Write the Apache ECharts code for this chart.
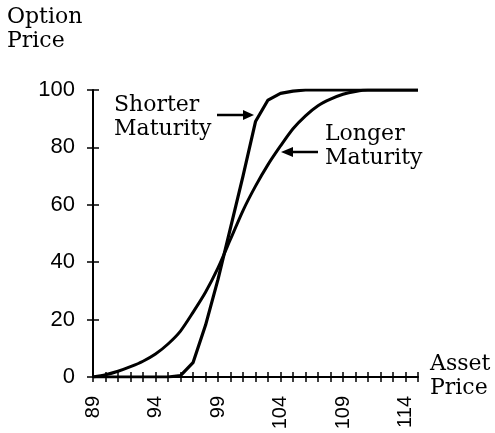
<!DOCTYPE html>
<html>
<head>
<meta charset="utf-8">
<script src="https://cdn.jsdelivr.net/npm/echarts@6/dist/echarts.min.js"></script>
<style>
html,body{margin:0;padding:0;background:#fff}
#chart{width:495px;height:433px}
</style>
</head>
<body>
<div id="chart"></div>
<script>
// asset prices on the x axis, one category per unit
const assetPrice = ['89','90','91','92','93','94','95','96','97','98','99','100','101','102',
    '103','104','105','106','107','108','109','110','111','112','113','114','115']
// option price
const shorterMaturity = [0,0,0,0,0,0,0,0.5,5,18,34,52,70,89,96.5,98.8,99.6,
    100,100,100,100,100,100,100,100,100,100]
const longerMaturity = [0,0.8,2,3.6,5.5,8,11.5,16,22.5,29.5,38,48,58,66.5,74,80.5,86.5,
    91,94.5,96.8,98.5,99.5,100,100,100,100,100]
const yTicks = {min:0, max:100, interval:20}

const serif = '22px "DejaVu Serif"'
const sans = '"Liberation Sans", Arial, sans-serif'

let myChart = echarts.init(document.getElementById('chart'), null, {renderer:'canvas'})

let option = {
    animation: false,
    backgroundColor: '#fff',
    grid: {left:93, top:90, width:325, height:287, containLabel:false},
    xAxis: [
        {
            type: 'category',
            data: assetPrice,
            boundaryGap: false,
            axisLine: {lineStyle:{color:'#000', width:2}},
            axisTick: {show:true, interval:0, length:5, lineStyle:{color:'#000', width:1.5}},
            axisLabel: {interval:4, rotate:90, margin:19, color:'#000',
                fontFamily:sans, fontSize:20}
        },
        {
            type: 'category',
            data: assetPrice,
            boundaryGap: false,
            position: 'bottom',
            axisLine: {show:false},
            axisTick: {show:true, inside:true, interval:0, length:5, lineStyle:{color:'#000', width:1.5}},
            axisLabel: {show:false}
        }
    ],
    yAxis: [
        {
            type: 'value',
            min: yTicks.min, max: yTicks.max, interval: yTicks.interval,
            splitLine: {show:false},
            axisLine: {show:true, lineStyle:{color:'#000', width:2}},
            axisTick: {show:true, length:6, lineStyle:{color:'#000', width:1.5}},
            axisLabel: {margin:18, color:'#000', fontFamily:sans, fontSize:22}
        },
        {
            type: 'value',
            position: 'left',
            min: yTicks.min, max: yTicks.max, interval: yTicks.interval,
            splitLine: {show:false},
            axisLine: {show:false},
            axisTick: {show:true, inside:true, length:6, lineStyle:{color:'#000', width:1.5}},
            axisLabel: {show:false}
        }
    ],
    series: [
        {
            name: 'Shorter Maturity',
            type: 'line',
            data: shorterMaturity,
            showSymbol: false,
            smooth: false,
            lineStyle: {color:'#000', width:3.2, join:'round'},
            z: 3
        },
        {
            name: 'Longer Maturity',
            type: 'line',
            data: longerMaturity,
            showSymbol: false,
            smooth: 0.25,
            lineStyle: {color:'#000', width:3, join:'round'},
            z: 3
        }
    ],
    graphic: [
        {type:'text', x:7, y:5, style:{text:'Option\nPrice', font:serif, lineHeight:24, fill:'#000'}},
        {type:'text', x:114, y:93, style:{text:'Shorter\nMaturity', font:serif, lineHeight:24, fill:'#000'}},
        {type:'text', x:325, y:122, style:{text:'Longer\nMaturity', font:serif, lineHeight:24, fill:'#000'}},
        {type:'text', x:430, y:352, style:{text:'Asset\nPrice', font:serif, lineHeight:24, fill:'#000'}},
        // arrows pointing at the curves
        {type:'line', shape:{x1:217, y1:115, x2:246, y2:115}, style:{stroke:'#000', lineWidth:2.5}},
        {type:'polygon', shape:{points:[[243,110],[254,115],[243,120]]}, style:{fill:'#000'}},
        {type:'line', shape:{x1:318, y1:152, x2:290, y2:152}, style:{stroke:'#000', lineWidth:2.5}},
        {type:'polygon', shape:{points:[[293,147],[281,152],[293,157]]}, style:{fill:'#000'}}
    ]
}
myChart.setOption(option)
</script>
</body>
</html>
